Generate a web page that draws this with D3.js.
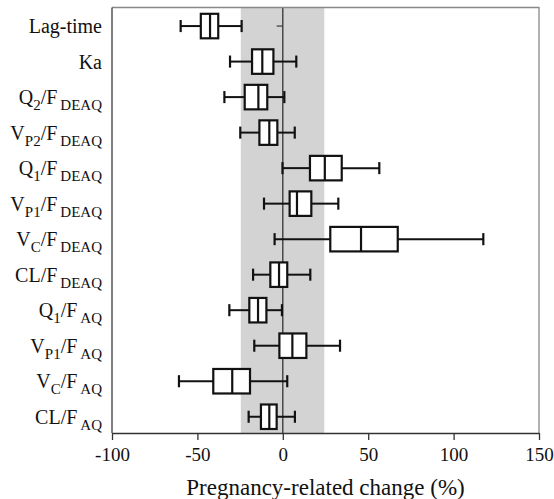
<!DOCTYPE html>
<html>
<head>
<meta charset="utf-8">
<script src="https://cdn.jsdelivr.net/npm/d3@7"></script>
<style>
  html, body { margin: 0; padding: 0; background: #fff; }
  svg { display: block; }
</style>
</head>
<body>
<div id="chart"></div>
<script>
// ---- data ----
// label parts: [main, sub1, mid, sub2]
const categories = [
  ["Lag-time"],
  ["Ka"],
  ["Q", "2", "/F", "DEAQ"],
  ["V", "P2", "/F", "DEAQ"],
  ["Q", "1", "/F", "DEAQ"],
  ["V", "P1", "/F", "DEAQ"],
  ["V", "C", "/F", "DEAQ"],
  ["CL", "", "/F", "DEAQ"],
  ["Q", "1", "/F", "AQ"],
  ["V", "P1", "/F", "AQ"],
  ["V", "C", "/F", "AQ"],
  ["CL", "", "/F", "AQ"]
];
const whiskerLow  = [-59.8, -30.9, -34.2, -24.9, -0.2, -11.0, -4.8, -17.4, -31.3, -16.7, -60.8, -20.0];
const quart1      = [-48.0, -18.0, -22.3, -13.7, 15.9,   4.0, 27.8,  -7.3, -19.6,  -2.0, -40.7, -12.8];
const medians     = [-42.6, -12.0, -14.3,  -7.9, 24.6,   8.3, 45.8,  -2.2, -14.5,   5.6, -29.6,  -7.9];
const quart3      = [-37.8,  -5.5,  -9.1,  -3.2, 34.5,  16.7, 67.3,   2.6,  -9.6,  13.8, -19.2,  -3.6];
const whiskerHigh = [-24.1,   7.9,   0.9,   7.0, 56.5,  32.5, 117.4, 16.1,  -0.5,  33.5,   2.6,   7.1];
const xTicks = [-100, -50, 0, 50, 100, 150];
const shadedRange = [-24.6, 24.3];
const extraDash = { row: 0, from: -3.6, to: 0 };
const xTitle = "Pregnancy-related change (%)";

// ---- layout ----
const FONT = '"Liberation Serif"';
const W = 554, H = 499;
const mLeft = 112, mRight = 539, mTop = 7.5, mBottom = 433;

const svg = d3.select("#chart").append("svg").attr("width", W).attr("height", H);

const x = d3.scaleLinear().domain([-100, 150]).range([mLeft, mRight]);
const y = d3.scaleBand().domain(d3.range(categories.length)).range([mTop + 0.8, mBottom + 1.5]).padding(0);
const bw = y.bandwidth();
const boxH = bw * 0.69;
const capH = bw * 0.34;
const cy = i => y(i) + bw / 2;

// shaded band
svg.append("rect")
  .attr("x", x(shadedRange[0])).attr("y", mTop)
  .attr("width", x(shadedRange[1]) - x(shadedRange[0]))
  .attr("height", mBottom - mTop)
  .attr("fill", "#d3d3d3");

// zero line
svg.append("line")
  .attr("x1", x(0)).attr("x2", x(0)).attr("y1", mTop).attr("y2", mBottom)
  .attr("stroke", "#333").attr("stroke-width", 1.3);

const rows = d3.range(categories.length);
const g = svg.append("g");

// whiskers
g.selectAll(".wl").data(rows).join("line")
  .attr("x1", i => x(whiskerLow[i])).attr("x2", i => x(quart1[i]))
  .attr("y1", cy).attr("y2", cy)
  .attr("stroke", "#111").attr("stroke-width", 2);
g.selectAll(".wh").data(rows).join("line")
  .attr("x1", i => x(quart3[i])).attr("x2", i => x(whiskerHigh[i]))
  .attr("y1", cy).attr("y2", cy)
  .attr("stroke", "#111").attr("stroke-width", 2);
// caps
g.selectAll(".cl").data(rows).join("line")
  .attr("x1", i => x(whiskerLow[i])).attr("x2", i => x(whiskerLow[i]))
  .attr("y1", i => cy(i) - capH / 2).attr("y2", i => cy(i) + capH / 2)
  .attr("stroke", "#111").attr("stroke-width", 2.2);
g.selectAll(".ch").data(rows).join("line")
  .attr("x1", i => x(whiskerHigh[i])).attr("x2", i => x(whiskerHigh[i]))
  .attr("y1", i => cy(i) - capH / 2).attr("y2", i => cy(i) + capH / 2)
  .attr("stroke", "#111").attr("stroke-width", 2.2);
// boxes
g.selectAll(".box").data(rows).join("rect")
  .attr("x", i => x(quart1[i])).attr("width", i => x(quart3[i]) - x(quart1[i]))
  .attr("y", i => cy(i) - boxH / 2).attr("height", boxH)
  .attr("fill", "#fff").attr("stroke", "#111").attr("stroke-width", 2.2);
// medians
g.selectAll(".med").data(rows).join("line")
  .attr("x1", i => x(medians[i])).attr("x2", i => x(medians[i]))
  .attr("y1", i => cy(i) - boxH / 2).attr("y2", i => cy(i) + boxH / 2)
  .attr("stroke", "#111").attr("stroke-width", 2.2);

// small dash in lag-time row
svg.append("line")
  .attr("x1", x(extraDash.from)).attr("x2", x(extraDash.to))
  .attr("y1", cy(extraDash.row)).attr("y2", cy(extraDash.row))
  .attr("stroke", "#444").attr("stroke-width", 1.3);

// frame top/right
svg.append("path")
  .attr("d", `M${mLeft},${mTop}H${mRight}V${mBottom}`)
  .attr("fill", "none").attr("stroke", "#888").attr("stroke-width", 1.3);
// left axis line
svg.append("line")
  .attr("x1", mLeft).attr("x2", mLeft).attr("y1", mTop).attr("y2", mBottom)
  .attr("stroke", "#555").attr("stroke-width", 1.5);

// bottom axis
const xAxis = svg.append("g").attr("transform", `translate(0,${mBottom})`)
  .call(d3.axisBottom(x).tickValues(xTicks).tickFormat(d => String(d)).tickSize(7).tickPadding(8).tickSizeOuter(0));
xAxis.attr("font-family", FONT).attr("font-size", 19);
xAxis.select(".domain").attr("stroke", "#333").attr("stroke-width", 1.5);
xAxis.selectAll(".tick line").attr("stroke", "#333").attr("stroke-width", 1.3);
xAxis.selectAll(".tick text")
  .style("font-family", FONT)
  .style("font-size", "19px").attr("fill", "#111");

// category labels
const labels = svg.append("g");
rows.forEach(i => {
  const parts = categories[i];
  const t = labels.append("text")
    .attr("x", 102).attr("y", cy(i) + 7)
    .attr("text-anchor", "end")
    .attr("fill", "#111")
    .style("font-family", FONT)
    .style("font-size", "20px");
  t.append("tspan").text(parts[0]);
  if (parts.length > 1) {
    if (parts[1]) {
      t.append("tspan").attr("dy", 6).style("font-size", "15px").text(parts[1]);
      t.append("tspan").attr("dy", -6).text(parts[2]);
    } else {
      t.append("tspan").text(parts[2]);
    }
    t.append("tspan").attr("dx", 3).attr("dy", 6).style("font-size", "15px").text(parts[3]);
  }
});

// x title
svg.append("text")
  .attr("x", (mLeft + mRight) / 2).attr("y", 494.5)
  .attr("text-anchor", "middle")
  .attr("fill", "#111")
  .style("font-family", FONT)
  .style("font-size", "23px")
  .text(xTitle);
</script>
</body>
</html>
